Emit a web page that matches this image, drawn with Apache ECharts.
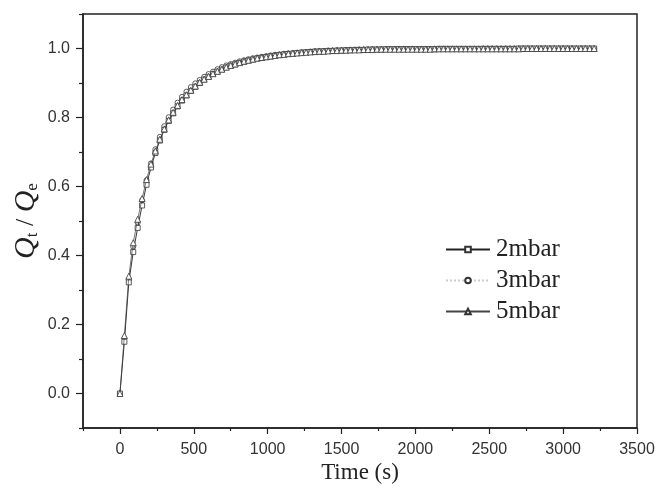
<!DOCTYPE html>
<html>
<head>
<meta charset="utf-8">
<script src="https://cdn.jsdelivr.net/npm/echarts@6/dist/echarts.min.js"></script>
<style>html,body{margin:0;padding:0;background:#fff}#c{width:658px;height:493px}</style>
</head>
<body>
<div id="c"></div>
<script>
const times = [
  0,30,60,90,120,150,180,210,240,270,
  300,330,360,390,420,450,480,510,540,570,
  600,630,660,690,720,750,780,810,840,870,
  900,930,960,990,1020,1050,1080,1110,1140,1170,
  1200,1230,1260,1290,1320,1350,1380,1410,1440,1470,
  1500,1530,1560,1590,1620,1650,1680,1710,1740,1770,
  1800,1830,1860,1890,1920,1950,1980,2010,2040,2070,
  2100,2130,2160,2190,2220,2250,2280,2310,2340,2370,
  2400,2430,2460,2490,2520,2550,2580,2610,2640,2670,
  2700,2730,2760,2790,2820,2850,2880,2910,2940,2970,
  3000,3030,3060,3090,3120,3150,3180,3210
];
const q2mbar = [
  0,0.150,0.322,0.410,0.480,0.545,0.605,0.655,0.697,0.733,
  0.764,0.790,0.812,0.832,0.849,0.864,0.877,0.889,0.900,0.910,
  0.918,0.926,0.933,0.939,0.945,0.950,0.954,0.958,0.962,0.965,
  0.968,0.971,0.973,0.975,0.977,0.979,0.981,0.983,0.984,0.985,
  0.987,0.988,0.989,0.990,0.991,0.991,0.992,0.993,0.993,0.994,
  0.994,0.995,0.995,0.996,0.996,0.996,0.997,0.997,0.997,0.997,
  0.998,0.998,0.998,0.998,0.998,0.998,0.998,0.998,0.998,0.998,
  0.998,0.998,0.999,0.999,0.999,0.999,0.999,0.999,0.999,0.999,
  0.999,0.999,0.999,0.999,0.999,0.999,0.999,0.999,0.999,0.999,
  1.000,1.000,1.000,1.000,1.000,1.000,1.000,1.000,1.000,1.000,
  1.000,1.000,1.000,1.000,1.000,1.000,1.000,1.000
];
const q3mbar = [
  0,0.160,0.330,0.425,0.495,0.560,0.618,0.667,0.708,0.744,
  0.775,0.801,0.823,0.843,0.860,0.875,0.888,0.899,0.909,0.918,
  0.926,0.933,0.940,0.946,0.951,0.955,0.959,0.963,0.966,0.969,
  0.972,0.974,0.976,0.978,0.980,0.982,0.983,0.985,0.986,0.987,
  0.988,0.989,0.990,0.991,0.992,0.993,0.993,0.994,0.994,0.995,
  0.995,0.996,0.996,0.996,0.997,0.997,0.997,0.998,0.998,0.998,
  0.998,0.998,0.998,0.999,0.999,0.999,0.999,0.999,0.999,0.999,
  0.999,0.999,0.999,0.999,0.999,0.999,0.999,0.999,0.999,0.999,
  0.999,0.999,1.000,1.000,1.000,1.000,1.000,1.000,1.000,1.000,
  1.000,1.000,1.000,1.000,1.000,1.000,1.000,1.000,1.000,1.000,
  1.000,1.000,1.000,1.000,1.000,1.000,1.000,1.000
];
const q5mbar = [
  0,0.168,0.340,0.437,0.505,0.565,0.620,0.665,0.703,0.737,
  0.767,0.793,0.815,0.835,0.852,0.866,0.879,0.891,0.902,0.911,
  0.919,0.927,0.934,0.940,0.946,0.951,0.955,0.959,0.963,0.966,
  0.969,0.972,0.974,0.976,0.978,0.980,0.982,0.983,0.985,0.986,
  0.987,0.988,0.989,0.990,0.991,0.992,0.992,0.993,0.994,0.994,
  0.995,0.995,0.996,0.996,0.996,0.997,0.997,0.997,0.998,0.998,
  0.998,0.998,0.998,0.998,0.998,0.998,0.998,0.998,0.998,0.998,
  0.998,0.999,0.999,0.999,0.999,0.999,0.999,0.999,0.999,0.999,
  0.999,0.999,0.999,0.999,0.999,0.999,0.999,0.999,0.999,0.999,
  0.999,1.000,1.000,1.000,1.000,1.000,1.000,1.000,1.000,1.000,
  1.000,1.000,1.000,1.000,1.000,1.000,1.000,1.000
];
const seriesNames = ['2mbar','3mbar','5mbar'];
const xMajor = [0,500,1000,1500,2000,2500,3000,3500];
const xMinor = [-250,250,750,1250,1750,2250,2750,3250];
const yMajor = [0.0,0.2,0.4,0.6,0.8,1.0];
const yMinor = [-0.1,0.1,0.3,0.5,0.7,0.9,1.1];

const pair = v => times.map((t,i)=>[t, v[i]]);
const ink = '#222';
const chart = echarts.init(document.getElementById('c'), null, {renderer:'canvas'});
const sym = {color:'#fff', borderColor:'#333', borderWidth:0.8};
chart.setOption({
  animation:false,
  backgroundColor:'#fff',
  grid:{left:83, right:21, top:14, bottom:65, show:true, borderColor:ink, borderWidth:1.5, backgroundColor:'transparent'},
  legend:{
    orient:'vertical', left:440, top:232, itemWidth:44, itemHeight:7, itemGap:6,
    textStyle:{fontFamily:'Liberation Serif', fontSize:25, lineHeight:24, color:ink, padding:[0,0,0,1]},
    data:seriesNames
  },
  xAxis:[{
    type:'value', min:-250, max:3500, position:'bottom',
    name:'Time (s)', nameLocation:'middle', nameGap:33, nameMoveOverlap:false,
    nameTextStyle:{fontFamily:'Liberation Serif', fontSize:23, color:ink},
    axisLine:{show:true, onZero:false, lineStyle:{color:ink, width:1.5}},
    axisTick:{show:true, customValues:xMajor, length:6, lineStyle:{color:ink, width:1.2}},
    axisLabel:{customValues:xMajor, margin:14, fontFamily:'Liberation Sans', fontSize:16, color:'#333',
      formatter:v=>String(v)},
    splitLine:{show:false}
  },{
    type:'value', min:-250, max:3500, position:'bottom',
    axisLine:{show:false, onZero:false},
    axisTick:{show:true, customValues:xMinor, length:3, lineStyle:{color:ink, width:1.2}},
    axisLabel:{show:false}, splitLine:{show:false}
  }],
  yAxis:[{
    type:'value', min:-0.1, max:1.1, position:'left',
    name:'{q|Q}{s|t}{n| / }{q|Q}{s|e}', nameLocation:'middle', nameGap:42, nameMoveOverlap:false,
    nameTextStyle:{fontFamily:'Liberation Serif', fontSize:26, color:ink,
      rich:{
        q:{fontFamily:'Liberation Serif', fontStyle:'italic', fontSize:30, color:ink},
        n:{fontFamily:'Liberation Serif', fontSize:26, color:ink},
        s:{fontFamily:'Liberation Serif', fontSize:17, color:ink, padding:[13,0,0,0]}
      }},
    axisLine:{show:true, onZero:false, lineStyle:{color:ink, width:1.5}},
    axisTick:{show:true, customValues:yMajor, length:7, lineStyle:{color:ink, width:1.2}},
    axisLabel:{customValues:yMajor, margin:13, fontFamily:'Liberation Sans', fontSize:16, color:'#333',
      formatter:v=>v.toFixed(1)},
    splitLine:{show:false}
  },{
    type:'value', min:-0.1, max:1.1, position:'left',
    axisLine:{show:false, onZero:false},
    axisTick:{show:true, customValues:yMinor, length:4, lineStyle:{color:ink, width:1.2}},
    axisLabel:{show:false}, splitLine:{show:false}
  }],
  series:[
    {name:'2mbar', type:'line', data:pair(q2mbar), symbol:'rect', symbolSize:5,
      itemStyle:sym, lineStyle:{color:ink, width:0.9}, z:3},
    {name:'3mbar', type:'line', data:pair(q3mbar), symbol:'circle', symbolSize:5,
      itemStyle:sym, lineStyle:{color:'#ccc', width:0.6, type:'dotted'}, z:2},
    {name:'5mbar', type:'line', data:pair(q5mbar), symbol:'triangle', symbolSize:6,
      itemStyle:sym, lineStyle:{color:'#444', width:0.7}, z:4}
  ]
});
</script>
</body>
</html>
